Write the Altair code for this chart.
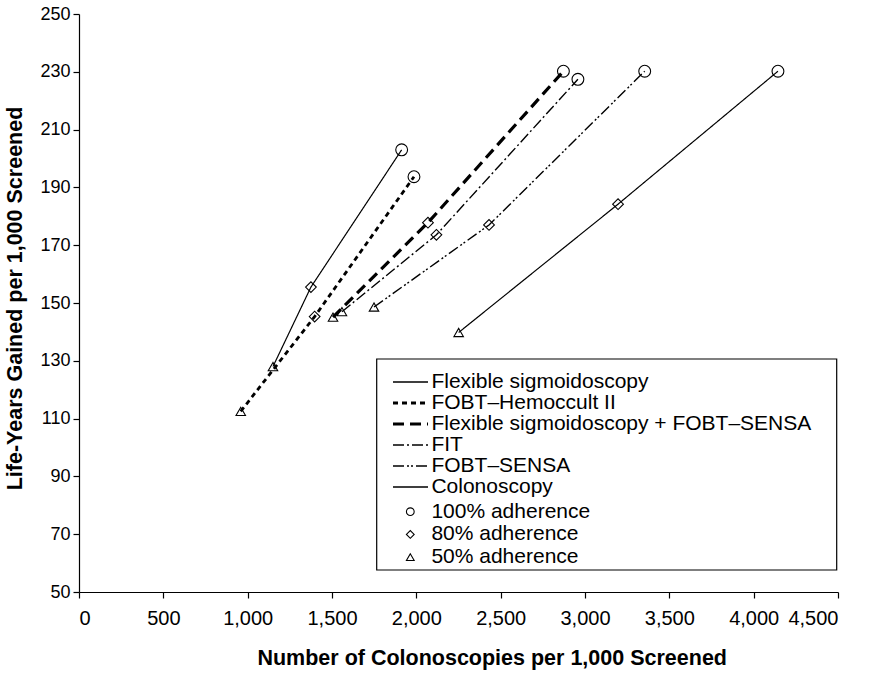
import altair as alt
import pandas as pd

series_names = [
    "Flexible sigmoidoscopy",
    "FOBT\u2013Hemoccult II",
    "Flexible sigmoidoscopy + FOBT\u2013SENSA",
    "FIT",
    "FOBT\u2013SENSA",
    "Colonoscopy",
]
adherence_levels = ["100% adherence", "80% adherence", "50% adherence"]

# x: colonoscopies per 1,000 screened ; y: life-years gained per 1,000 screened
# order of values within each list: 50%, 80%, 100% adherence
fs_x = [1150, 1375, 1913]
fs_y = [128, 155.5, 203]
hem_x = [959, 1397, 1986]
hem_y = [112.5, 145.3, 193.7]
fsfs_x = [1506, 2069, 2872]
fsfs_y = [145.1, 177.8, 230.2]
fit_x = [1559, 2119, 2958]
fit_y = [147, 173.6, 227.4]
sensa_x = [1749, 2431, 3354]
sensa_y = [148.6, 177, 230.2]
col_x = [2251, 3196, 4144]
col_y = [139.8, 184.2, 230.2]

point_levels = ["50% adherence", "80% adherence", "100% adherence"]
all_x = [fs_x, hem_x, fsfs_x, fit_x, sensa_x, col_x]
all_y = [fs_y, hem_y, fsfs_y, fit_y, sensa_y, col_y]

line_widths = [1.2, 2.8, 3.2, 1.4, 1.4, 1.2]
dash_range = [[1, 0], [5, 4], [11, 6], [11, 3, 2, 3], [11, 3, 2, 2, 2, 3], [1, 0]]

rows = []
for name, xs, ys, w in zip(series_names, all_x, all_y, line_widths):
    for i, (xv, yv) in enumerate(zip(xs, ys)):
        rows.append({"series": name, "x": xv, "y": yv,
                     "adherence": point_levels[i], "ord": i, "sw": w})
df = pd.DataFrame(rows)

FONT = "Liberation Sans"

x_enc = alt.X("x:Q", scale=alt.Scale(domain=[0, 4500], nice=False),
              axis=alt.Axis(values=list(range(0, 4501, 500)), format=",d",
                            title="Number of Colonoscopies per 1,000 Screened",
                            labelFont=FONT, labelFontSize=20, labelPadding=10,
                            titleFont=FONT, titleFontSize=21.5, titleFontWeight="bold",
                            titlePadding=19, titleX=412.7))
y_enc = alt.Y("y:Q", scale=alt.Scale(domain=[50, 250], nice=False),
              axis=alt.Axis(values=list(range(50, 251, 20)),
                            title="Life-Years Gained per 1,000 Screened",
                            labelFont=FONT, labelFontSize=18, labelPadding=3,
                            titleFont=FONT, titleFontSize=21.5, titleFontWeight="bold",
                            titlePadding=13, titleY=284))

thick_expr = ("indexof(['FOBT\u2013Hemoccult II', 'Flexible sigmoidoscopy + FOBT\u2013SENSA'], "
              "datum.value) >= 0 ? 3 : 1.3")

line_legend = alt.Legend(title=None, orient="none", legendX=321, legendY=357.5,
                         symbolType="stroke", symbolSize=1225, symbolStrokeColor="black",
                         symbolStrokeWidth={"expr": thick_expr},
                         labelFont=FONT, labelFontSize=21, labelOffset=10.4,
                         rowPadding=-12.8, padding=0, labelLimit=500)

lines = alt.Chart(df).mark_line(color="black").encode(
    x=x_enc, y=y_enc,
    strokeDash=alt.StrokeDash("series:N", scale=alt.Scale(domain=series_names, range=dash_range),
                              legend=line_legend),
    strokeWidth=alt.StrokeWidth("sw:Q", scale=None),
    detail="series:N",
    order="ord:Q",
)

points = alt.Chart(df).mark_point(filled=False, color="black", strokeWidth=1.1, opacity=1).encode(
    x="x:Q", y="y:Q",
    shape=alt.Shape("adherence:N",
                    scale=alt.Scale(domain=adherence_levels, range=["circle", "diamond", "triangle-up"]),
                    legend=alt.Legend(title=None, orient="none", legendX=320.8, legendY=487.2,
                                      symbolSize=60, symbolStrokeColor="black", symbolFillColor="transparent",
                                      symbolStrokeWidth=1.1,
                                      labelFont=FONT, labelFontSize=21, labelOffset=10.6,
                                      rowPadding=0.7, padding=0)),
    size=alt.Size("adherence:N",
                  scale=alt.Scale(domain=adherence_levels, range=[140, 90, 110]), legend=None),
)

box = alt.Chart(pd.DataFrame({"k": [0]})).mark_rect(fill="white", stroke="black", strokeWidth=1.2).encode(
    x=alt.value(297.7), x2=alt.value(757.7), y=alt.value(345), y2=alt.value(556)
)

chart = alt.layer(box, lines, points).resolve_scale(size="independent").properties(
    width=759, height=578,
    autosize=alt.AutoSizeParams(type="none"),
    padding={"left": 79, "top": 14, "right": 35, "bottom": 81},
    background="white",
).configure_view(stroke=None).configure_axis(
    grid=False, domainColor="black", domainWidth=1.2, tickColor="black",
    tickSize=6, tickWidth=1.2, labelColor="black", titleColor="black",
)

chart.save("out.html", embed_options={"renderer": "svg", "actions": False})
